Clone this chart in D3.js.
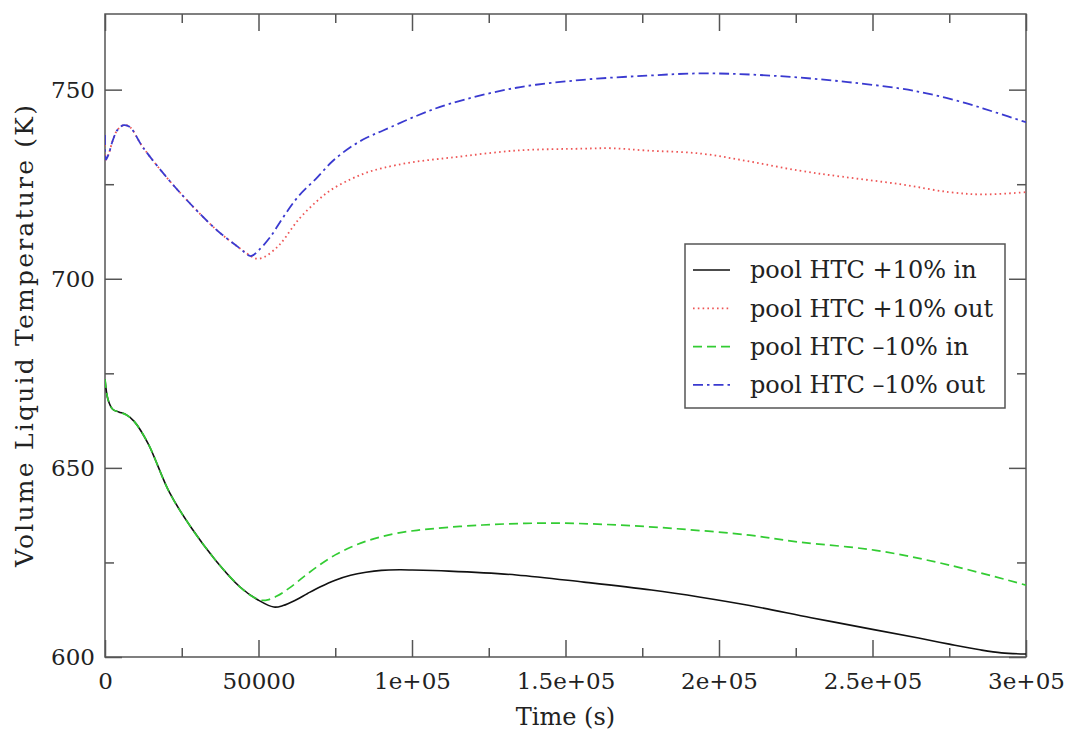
<!DOCTYPE html>
<html>
<head>
<meta charset="utf-8">
<script src="https://cdn.jsdelivr.net/npm/d3@7"></script>
<style>
  html, body { margin: 0; padding: 0; background: #fff; }
  svg { display: block; }
  text { font-family: "DejaVu Serif", "Liberation Serif", serif; fill: #222; }
</style>
</head>
<body>
<svg id="chart" width="1069" height="734"></svg>
<script>
// ---- data ----
const seriesNames = ["pool HTC +10% in", "pool HTC +10% out", "pool HTC \u201310% in", "pool HTC \u201310% out"];

const plusInT  = [0, 1000, 2500, 4500, 7000, 9500, 14000, 21000, 28000, 36000, 44000, 50000, 55000, 58000, 62000, 66000, 70000, 75000, 80000, 85000, 90000, 96000, 100000, 112000, 134000, 156000, 178000, 194000, 210000, 230000, 250000, 265000, 275000, 285000, 292000, 300000];
const plusInV  = [673.5, 668, 665.5, 664.8, 664, 662.3, 656.5, 643.5, 634.3, 625.6, 618.5, 615, 613.2, 613.6, 615, 616.8, 618.5, 620.3, 621.6, 622.4, 622.9, 623.05, 623, 622.7, 621.7, 619.8, 617.7, 615.8, 613.6, 610.4, 607.3, 605, 603.4, 601.9, 601.1, 600.8];

const minusInT = [0, 1000, 2500, 4500, 7000, 9500, 14000, 21000, 28000, 36000, 44000, 48000, 51000, 53000, 56000, 60000, 65000, 70000, 75000, 80000, 85000, 90000, 95000, 101600, 123000, 145000, 167000, 188000, 210000, 226000, 251000, 275000, 300000];
const minusInV = [673.5, 668, 665.5, 664.8, 664, 662.3, 656.5, 643.5, 634.3, 625.6, 618.5, 616.0, 615.0, 615.1, 616.1, 618.2, 621.4, 624.4, 627.0, 629.0, 630.6, 631.8, 632.7, 633.5, 634.9, 635.4, 634.9, 633.8, 632.2, 630.4, 628.2, 624.3, 619];

const plusOutT = [0, 300, 1200, 2500, 4000, 6000, 8000, 12400, 20200, 27700, 36500, 44000, 47500, 49500, 52000, 56000, 58000, 63000, 69000, 74000, 80000, 85000, 90600, 100000, 112400, 134000, 155700, 165000, 176500, 194000, 210000, 226000, 240000, 259000, 275000, 286000, 300000];
const plusOutV = [738, 731.5, 733, 736.5, 739.3, 740.6, 740.2, 734.7, 726.7, 719.9, 712.8, 708, 706, 705.3, 705.8, 708.3, 710.1, 715.6, 720.5, 723.7, 726.3, 728.0, 729.3, 730.8, 732, 733.9, 734.4, 734.5, 733.9, 733.1, 731.0, 728.6, 727.0, 725.0, 722.9, 722.3, 722.9];

const minusOutT = [0, 300, 1200, 2500, 4000, 6000, 8000, 12400, 20200, 27700, 36500, 44000, 47500, 50000, 53700, 58000, 63000, 69000, 74000, 79800, 85000, 90600, 101600, 112400, 134000, 155700, 176500, 194000, 210000, 226000, 242000, 259000, 270000, 281000, 290000, 300000];
const minusOutV = [738, 731.5, 733, 736.5, 739.3, 740.6, 740.2, 734.7, 726.7, 719.9, 712.8, 708, 706, 707.5, 710.9, 716.2, 721.8, 726.7, 731, 734.7, 737.2, 739.2, 743.1, 746.3, 750.5, 752.6, 753.7, 754.3, 754.0, 753.2, 752.0, 750.3, 748.6, 746.3, 744.0, 741.4];

const xTicks = [0, 50000, 100000, 150000, 200000, 250000, 300000];
const xTickLabels = ["0", "50000", "1e+05", "1.5e+05", "2e+05", "2.5e+05", "3e+05"];
const xMinorTicks = [25000, 75000, 125000, 175000, 225000, 275000];
const yTicks = [600, 650, 700, 750];
const yMinorTicks = [625, 675, 725];

// ---- layout ----
const svg = d3.select("#chart");
const L = 105, R = 1026, T = 14, B = 657;
const x = d3.scaleLinear().domain([0, 300000]).range([L, R]);
const y = d3.scaleLinear().domain([600, 770]).range([B, T]);

const axisColor = "#555";
const majorLen = 17, minorLen = 9;

function styleAxis(g) {
  g.select(".domain").remove();
  g.selectAll(".tick line").attr("stroke", axisColor).attr("stroke-width", 1.5);
  g.selectAll(".tick text").attr("fill", "#222").attr("font-family", "DejaVu Serif, serif").attr("font-size", 23);
}

// bottom
svg.append("g").attr("transform", `translate(0,${B})`)
  .call(d3.axisBottom(x).tickValues(xTicks).tickSize(-majorLen).tickPadding(16)
    .tickFormat((d, i) => xTickLabels[i]))
  .call(styleAxis);
svg.append("g").attr("transform", `translate(0,${B})`)
  .call(d3.axisBottom(x).tickValues(xMinorTicks).tickSize(-minorLen).tickFormat(""))
  .call(styleAxis);
// top
svg.append("g").attr("transform", `translate(0,${T})`)
  .call(d3.axisTop(x).tickValues(xTicks).tickSize(-majorLen).tickFormat(""))
  .call(styleAxis);
svg.append("g").attr("transform", `translate(0,${T})`)
  .call(d3.axisTop(x).tickValues(xMinorTicks).tickSize(-minorLen).tickFormat(""))
  .call(styleAxis);
// left
svg.append("g").attr("transform", `translate(${L},0)`)
  .call(d3.axisLeft(y).tickValues(yTicks).tickSize(-majorLen).tickPadding(10).tickFormat(d3.format("d")))
  .call(styleAxis);
svg.append("g").attr("transform", `translate(${L},0)`)
  .call(d3.axisLeft(y).tickValues(yMinorTicks).tickSize(-minorLen).tickFormat(""))
  .call(styleAxis);
// right
svg.append("g").attr("transform", `translate(${R},0)`)
  .call(d3.axisRight(y).tickValues(yTicks).tickSize(-majorLen).tickFormat(""))
  .call(styleAxis);
svg.append("g").attr("transform", `translate(${R},0)`)
  .call(d3.axisRight(y).tickValues(yMinorTicks).tickSize(-minorLen).tickFormat(""))
  .call(styleAxis);

// frame
svg.append("rect").attr("x", L).attr("y", T).attr("width", R - L).attr("height", B - T)
  .attr("fill", "none").attr("stroke", axisColor).attr("stroke-width", 1.5);

// ---- lines ----
const series = [
  { name: seriesNames[0], t: plusInT,   v: plusInV,   color: "#111111", dash: null,         w: 1.6 },
  { name: seriesNames[1], t: plusOutT,  v: plusOutV,  color: "#ee5555", dash: "1.6,3.2",    w: 1.8 },
  { name: seriesNames[2], t: minusInT,  v: minusInV,  color: "#33cc33", dash: "9,5",        w: 1.7 },
  { name: seriesNames[3], t: minusOutT, v: minusOutV, color: "#3a3ad0", dash: "10,4,2.5,4", w: 1.8 }
];

const line = d3.line().x(d => x(d[0])).y(d => y(d[1])).curve(d3.curveCatmullRom.alpha(0.5));
svg.append("clipPath").attr("id", "clip").append("rect")
  .attr("x", L).attr("y", T).attr("width", R - L).attr("height", B - T);

const drawOrder = [0, 2, 1, 3];
drawOrder.forEach(i => {
  const s = series[i];
  const pts = s.t.map((t, k) => [t, s.v[k]]);
  svg.append("path").datum(pts)
    .attr("clip-path", "url(#clip)")
    .attr("fill", "none")
    .attr("stroke", s.color)
    .attr("stroke-width", s.w)
    .attr("stroke-dasharray", s.dash)
    .attr("d", line);
});

// ---- legend ----
const lg = svg.append("g");
lg.append("rect").attr("x", 685).attr("y", 244).attr("width", 320).attr("height", 164)
  .attr("fill", "#fff").attr("stroke", axisColor).attr("stroke-width", 1.5);
series.forEach((s, i) => {
  const cy = 270 + i * 38.3;
  lg.append("line").attr("x1", 693).attr("x2", 730).attr("y1", cy).attr("y2", cy)
    .attr("stroke", s.color).attr("stroke-width", s.w).attr("stroke-dasharray", s.dash);
  lg.append("text").attr("x", 750).attr("y", cy).attr("dy", "0.35em")
    .attr("font-size", 24).text(s.name);
});

// ---- axis titles ----
svg.append("text").attr("x", (L + R) / 2).attr("y", 725).attr("text-anchor", "middle")
  .attr("font-size", 24).text("Time (s)");
svg.append("text").attr("transform", `translate(33,336) rotate(-90)`)
  .attr("text-anchor", "middle").attr("font-size", 25)
  .attr("textLength", 462).attr("lengthAdjust", "spacing")
  .text("Volume Liquid Temperature (K)");
</script>
</body>
</html>
